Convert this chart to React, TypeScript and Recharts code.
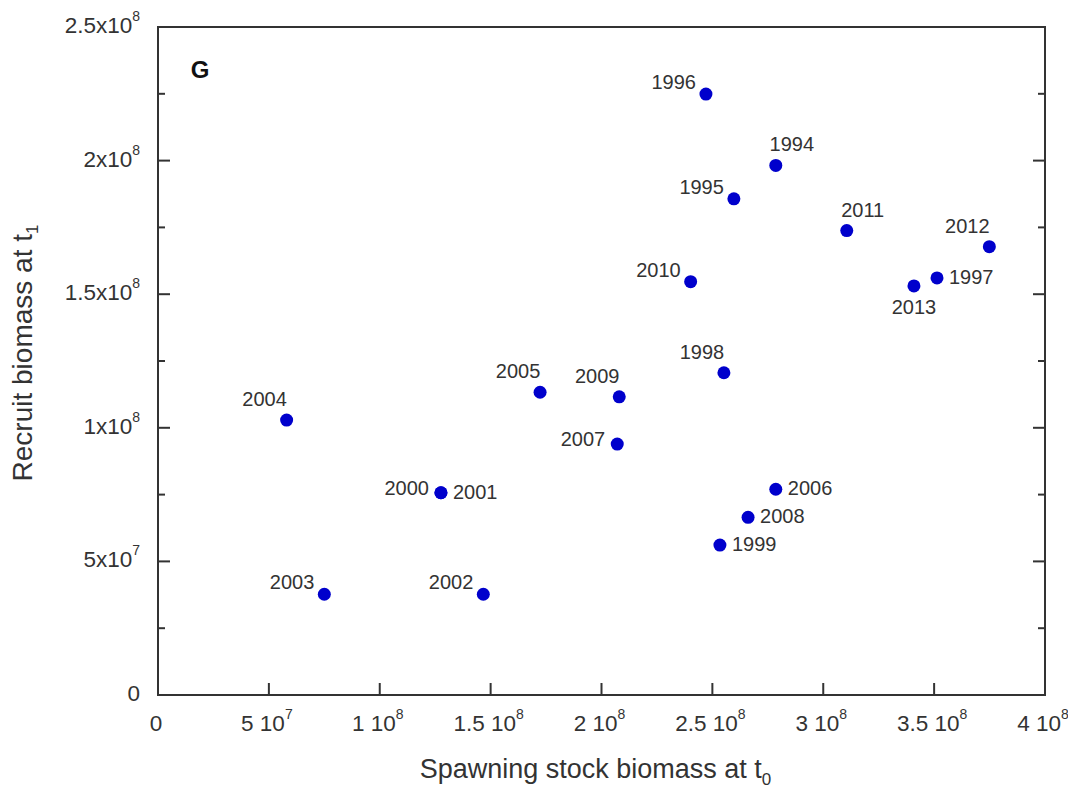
import React from "react";
import { ScatterChart, Scatter, XAxis, YAxis, ReferenceArea } from "recharts";

const years = [1994, 1995, 1996, 1997, 1998, 1999, 2000, 2001, 2002, 2003, 2004, 2005, 2006, 2007, 2008, 2009, 2010, 2011, 2012, 2013];
const spawningStock = [2.786e8, 2.597e8, 2.471e8, 3.513e8, 2.552e8, 2.534e8, 1.276e8, 1.276e8, 1.467e8, 0.75e8, 0.58e8, 1.723e8, 2.786e8, 2.071e8, 2.661e8, 2.08e8, 2.402e8, 3.106e8, 3.749e8, 3.409e8];
const recruitBiomass = [1.982e8, 1.857e8, 2.249e8, 1.561e8, 1.206e8, 0.561e8, 0.757e8, 0.757e8, 0.377e8, 0.377e8, 1.029e8, 1.133e8, 0.77e8, 0.939e8, 0.665e8, 1.116e8, 1.547e8, 1.738e8, 1.678e8, 1.531e8];
const labelSide = ["topRight", "upLeft", "upLeft", "right", "topLeft", "right", "left", "right", "upLeft", "upLeft", "topLeft", "topLeft", "right", "left", "right", "topLeft", "upLeft", "topRight", "topLeft", "bottom"];

const xTicks = [0, 5e7, 1e8, 1.5e8, 2e8, 2.5e8, 3e8, 3.5e8, 4e8];
const xTickLabels = ["0", "5 10^7", "1 10^8", "1.5 10^8", "2 10^8", "2.5 10^8", "3 10^8", "3.5 10^8", "4 10^8"];
const yTicks = [0, 2.5e7, 5e7, 7.5e7, 1e8, 1.25e8, 1.5e8, 1.75e8, 2e8, 2.25e8, 2.5e8];
const yTickLabels = ["0", "", "5x10^7", "", "1x10^8", "", "1.5x10^8", "", "2x10^8", "", "2.5x10^8"];

const data = years.map((year, i) => ({ year, x: spawningStock[i], y: recruitBiomass[i], side: labelSide[i] }));

const FONT = "'Liberation Sans', Arial, sans-serif";
const INK = "#333";
const DOT = "#0000cc";

const SIDE: Record<string, { anchor: string; dx: number; dy: number }> = {
  upLeft: { anchor: "end", dx: -10, dy: -12 },
  left: { anchor: "end", dx: -12, dy: -5 },
  right: { anchor: "start", dx: 12, dy: -1 },
  topLeft: { anchor: "middle", dx: -22, dy: -21 },
  topRight: { anchor: "middle", dx: 16, dy: -21 },
  bottom: { anchor: "middle", dx: 0, dy: 21 },
};

function SupText({ x, y, label, anchor }: any) {
  const [base, exp] = String(label).split("^");
  return (
    <text x={x} y={y} textAnchor={anchor} fontSize={22.5} fill={INK} fontFamily={FONT} dominantBaseline="central">
      <tspan>{base}</tspan>
      {exp ? (
        <tspan dy={-9} fontSize={14}>
          {exp}
        </tspan>
      ) : null}
    </text>
  );
}

const XTick = (props: any) => {
  const { x, y, payload } = props;
  const i = xTicks.indexOf(payload.value);
  const edge = payload.value === xTicks[0] || payload.value === xTicks[xTicks.length - 1];
  return (
    <g>
      {!edge && <line x1={x} x2={x} y1={y} y2={y - 12} stroke={INK} strokeWidth={2} />}
      <SupText x={x - 2} y={y + 28} label={xTickLabels[i]} anchor="middle" />
    </g>
  );
};

const YTickLeft = (props: any) => {
  const { x, y, payload } = props;
  const i = yTicks.indexOf(payload.value);
  const major = yTickLabels[i] !== "";
  const edge = payload.value === yTicks[0] || payload.value === yTicks[yTicks.length - 1];
  return (
    <g>
      {!edge && <line x1={x} x2={x + (major ? 12 : 7)} y1={y} y2={y} stroke={INK} strokeWidth={2} />}
      {major && <SupText x={x - 18} y={y - 2} label={yTickLabels[i]} anchor="end" />}
    </g>
  );
};

const YTickRight = (props: any) => {
  const { x, y, payload } = props;
  const i = yTicks.indexOf(payload.value);
  const major = yTickLabels[i] !== "";
  const edge = payload.value === yTicks[0] || payload.value === yTicks[yTicks.length - 1];
  if (edge) return <g />;
  return <line x1={x} x2={x - (major ? 12 : 7)} y1={y} y2={y} stroke={INK} strokeWidth={2} />;
};

const Dot = (props: any) => {
  const { cx, cy, payload } = props;
  const s = SIDE[payload.side];
  return (
    <g>
      <circle cx={cx} cy={cy} r={6.5} fill={DOT} />
      <text
        x={cx + s.dx}
        y={cy + s.dy}
        textAnchor={s.anchor}
        dominantBaseline="central"
        fontSize={20}
        fontFamily={FONT}
        fill={INK}
      >
        {payload.year}
      </text>
    </g>
  );
};

const XTitle = (props: any) => {
  const { viewBox } = props;
  const cx = viewBox.x + viewBox.width / 2 - 6;
  const cy = viewBox.y + 74;
  return (
    <text x={cx} y={cy} textAnchor="middle" dominantBaseline="central" fontSize={27} fontFamily={FONT} fill={INK}>
      Spawning stock biomass at t
      <tspan dy={10} fontSize={17}>
        0
      </tspan>
    </text>
  );
};

const YTitle = (props: any) => {
  const { viewBox } = props;
  const cx = viewBox.x + 14;
  const cy = viewBox.y + viewBox.height / 2 - 8;
  return (
    <text
      x={cx}
      y={cy}
      transform={`rotate(-90 ${cx} ${cy})`}
      textAnchor="middle"
      dominantBaseline="central"
      fontSize={28}
      fontFamily={FONT}
      fill={INK}
    >
      Recruit biomass at t
      <tspan dy={10} fontSize={17}>
        1
      </tspan>
    </text>
  );
};

const PanelLabel = (props: any) => {
  const { viewBox } = props;
  return (
    <text
      x={viewBox.x + 42}
      y={viewBox.y + 42}
      textAnchor="middle"
      dominantBaseline="central"
      fontSize={24}
      fontWeight="bold"
      fontFamily={FONT}
      fill="#111"
    >
      G
    </text>
  );
};

export default function App() {
  return (
    <div style={{ width: 1068, height: 787, fontFamily: FONT, background: "#fff" }}>
      <ScatterChart
        width={1068}
        height={787}
        margin={{ top: 19, right: 21, bottom: 0, left: 0 }}
        style={{ overflow: "visible" }}
      >
        <XAxis
          type="number"
          dataKey="x"
          domain={[0, 4e8]}
          ticks={xTicks}
          interval={0}
          height={100}
          axisLine={false}
          tickLine={false}
          tickSize={0}
          tickMargin={0}
          tick={<XTick />}
          label={<XTitle />}
        />
        <YAxis
          yAxisId="left"
          type="number"
          dataKey="y"
          domain={[0, 2.5e8]}
          ticks={yTicks}
          interval={0}
          width={150}
          axisLine={false}
          tickLine={false}
          tickSize={0}
          tickMargin={0}
          tick={<YTickLeft />}
          label={<YTitle />}
        />
        <YAxis
          yAxisId="right"
          orientation="right"
          type="number"
          dataKey="y"
          domain={[0, 2.5e8]}
          ticks={yTicks}
          interval={0}
          width={10}
          axisLine={false}
          tickLine={false}
          tickSize={0}
          tickMargin={0}
          tick={<YTickRight />}
        />
        <ReferenceArea
          yAxisId="left"
          x1={0}
          x2={4e8}
          y1={0}
          y2={2.5e8}
          fill="none"
          fillOpacity={0}
          stroke={INK}
          strokeWidth={2}
          strokeOpacity={1}
          label={<PanelLabel />}
        />
        <Scatter yAxisId="right" data={data} shape={() => <g />} isAnimationActive={false} />
        <Scatter yAxisId="left" data={data} shape={<Dot />} isAnimationActive={false} />
      </ScatterChart>
    </div>
  );
}
